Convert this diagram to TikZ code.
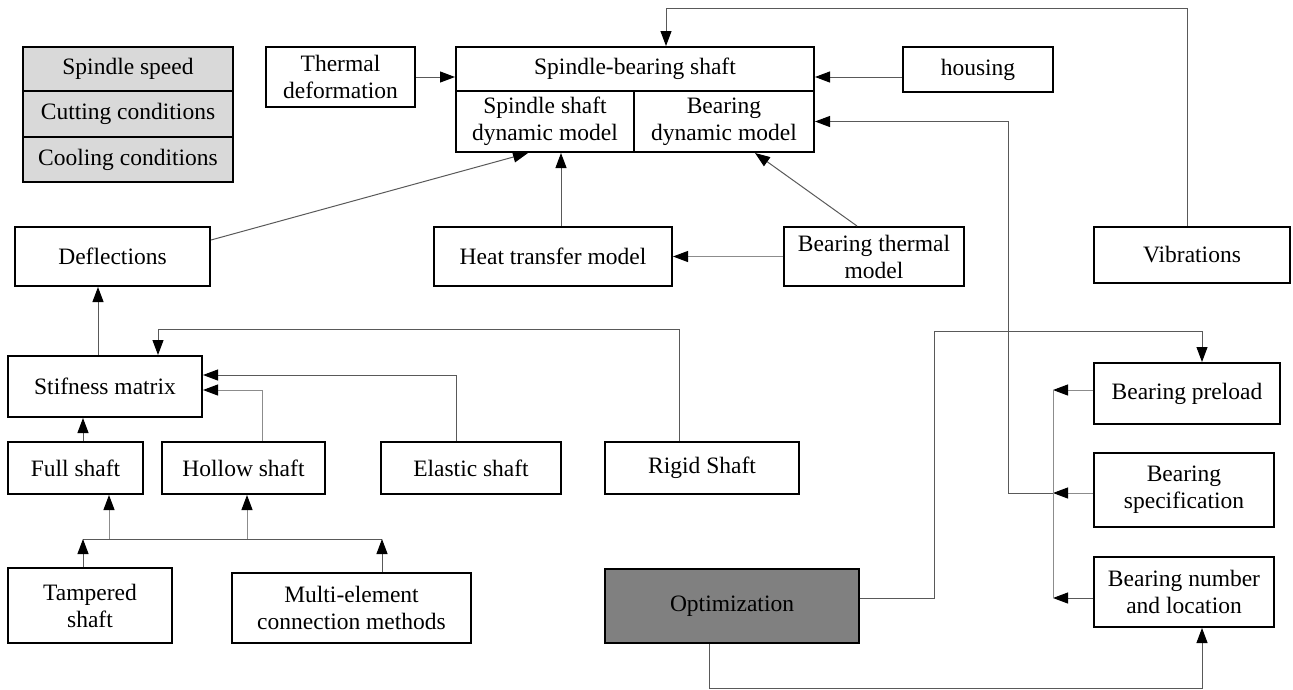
\documentclass[tikz,border=0pt]{standalone}
\usepackage{fontspec}
\setmainfont{Liberation Serif}
\usetikzlibrary{arrows.meta,calc}
\begin{document}
\begin{tikzpicture}[x=1pt,y=-1pt,
  bx/.style={draw=black,line width=2pt,align=center,inner sep=0pt,font=\fontsize{23.5}{27}\selectfont},
  lg/.style={bx,fill=black!15},
  dg/.style={bx,fill=black!50},
  conn/.style={draw=black!65,line width=1pt},
  light/.style={draw=black!45,line width=1pt},
  arr/.style={conn,-{Triangle[length=15pt,width=11pt,black]}},
  larr/.style={light,-{Triangle[length=15pt,width=11pt,black]}}]
\useasboundingbox (0,0) rectangle (1293,689);
% nodes
\node[lg,minimum width=210pt,minimum height=44pt] (spd) at (128,69) {Spindle speed};
\node[lg,minimum width=210pt,minimum height=46pt] (cut) at (128,114) {Cutting conditions};
\node[lg,minimum width=210pt,minimum height=45pt] (cool) at (128,159.5) {Cooling conditions};
\node[bx,minimum width=149pt,minimum height=60pt] (therm) at (340.5,77) {Thermal\\deformation};
\node[bx,minimum width=358pt,minimum height=44pt] (sbs) at (635,69) {Spindle-bearing shaft};
\node[bx,minimum width=178pt,minimum height=61pt] (ssd) at (545,121.5) {Spindle shaft\\dynamic model};
\node[bx,minimum width=180pt,minimum height=61pt] (bdm) at (724,121.5) {Bearing\\dynamic model};
\node[bx,minimum width=150pt,minimum height=45pt] (housing) at (978,69.5) {housing};
\node[bx,minimum width=196pt,minimum height=56pt] (vib) at (1192,255) {Vibrations};
\node[bx,minimum width=195pt,minimum height=59pt] (defl) at (112.5,256.5) {Deflections};
\node[bx,minimum width=238pt,minimum height=59pt] (heat) at (553,256.5) {Heat transfer model};
\node[bx,minimum width=180pt,minimum height=59pt] (btm) at (874,256.5) {Bearing thermal\\model};
\node[bx,minimum width=194pt,minimum height=61pt] (stif) at (105,386.5) {Stifness matrix};
\node[bx,minimum width=135pt,minimum height=52pt] (full) at (75.5,468) {Full shaft};
\node[bx,minimum width=163pt,minimum height=52pt] (hollow) at (243.5,468) {Hollow shaft};
\node[bx,minimum width=180pt,minimum height=52pt] (elastic) at (471,468) {Elastic shaft};
\node[bx,minimum width=194pt,minimum height=52pt] (rigid) at (702,468) {Rigid Shaft};
\node[bx,minimum width=164pt,minimum height=75pt] (tamp) at (90,605.5) {Tampered\\shaft};
\node[bx,minimum width=239pt,minimum height=70pt] (multi) at (351.5,608) {Multi-element\\connection methods};
\node[dg,minimum width=254pt,minimum height=74pt] (opt) at (732,606) {Optimization};
\node[bx,minimum width=186pt,minimum height=61pt] (bp) at (1187,393.5) {Bearing preload};
\node[bx,minimum width=180pt,minimum height=74pt] (bs) at (1184,490) {Bearing\\specification};
\node[bx,minimum width=180pt,minimum height=70pt] (bn) at (1184,592) {Bearing number\\and location};
% coordinates
\coordinate (c1) at (1053,390);
\coordinate (c2) at (1053,493);
\coordinate (c3) at (1053,598);
\coordinate (jl) at (83,539);
\coordinate (jr) at (382,539);
% connectors
\draw[arr] ([xshift=-5pt]vib.north) -- ++(0,-218) -| ([xshift=31pt]sbs.north);
\draw[arr] (therm.east) -- (therm.east -| sbs.west);
\draw[arr] ([yshift=-7.5pt]housing.west) -- ([yshift=-7.5pt]housing.west -| sbs.east);
\draw[larr] (bp.west |- c1) -- (c1);
\draw[larr] (bs.west |- c2) -- (c2);
\draw[arr] (bn.west |- c3) -- (c3);
\draw[light] (c1) -- (c3);
\draw[arr] (c2) -- ++(-45,0) |- (bdm.east);
\draw[arr] ([yshift=16.5pt]defl.east) -- ([xshift=-17pt]ssd.south);
\draw[arr] ([xshift=8pt]heat.north) -- ([xshift=8pt]heat.north |- ssd.south);
\draw[arr] ([xshift=-17pt]btm.north) -- ([xshift=31pt]bdm.south);
\draw[larr] (btm.west) -- (heat.east);
\draw[arr] ([xshift=-7pt]stif.north) -- ([xshift=-7pt]stif.north |- defl.south);
\draw[arr] ([xshift=-23pt]rigid.north) -- ++(0,-112) -| ([xshift=53pt]stif.north);
\draw[arr] ([xshift=-15pt]elastic.north) |- ([yshift=11.5pt]stif.east);
\draw[larr] ([xshift=18.5pt]hollow.north) |- ([yshift=-3.5pt]stif.east);
\draw[arr] ([xshift=7.5pt]full.north) -- ([xshift=7.5pt]full.north |- stif.south);
\draw[conn] (jl) -- (jr);
\draw[arr] ([xshift=-7pt]tamp.north) -- (jl);
\draw[arr] ([xshift=30.5pt]multi.north) -- (jr);
\draw[larr] ([xshift=33.5pt]full.south |- jl) -- ([xshift=33.5pt]full.south);
\draw[larr] ([xshift=3.5pt]hollow.south |- jl) -- ([xshift=3.5pt]hollow.south);
\draw[arr] ([yshift=8pt]opt.east) -- ++(74,0) -- ++(0,-267) -| ([xshift=15pt]bp.north);
\draw[arr] ([xshift=-23pt]opt.south) -- ++(0,44) -| ([xshift=18pt]bn.south);
\end{tikzpicture}
\end{document}
